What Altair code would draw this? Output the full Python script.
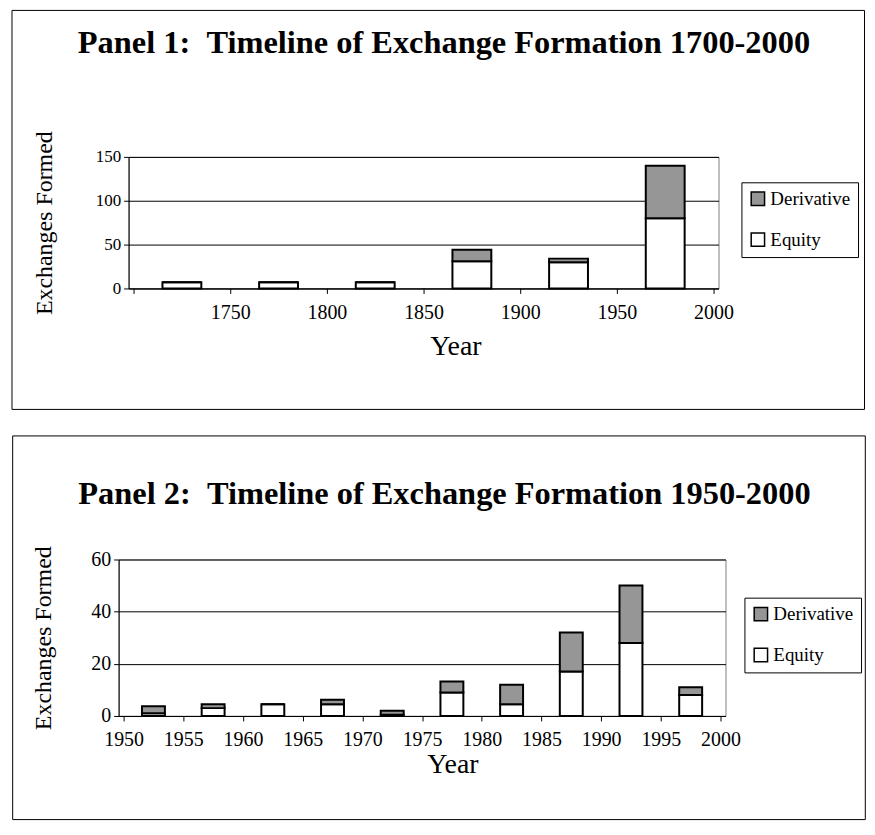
import altair as alt
import pandas as pd

FONT = "Liberation Serif"

title1 = "Panel 1: \u00a0Timeline of Exchange Formation 1700-2000"
p1_years = [1725, 1775, 1825, 1875, 1925, 1975]
p1_equity = [7, 7, 7, 31, 30, 80]
p1_derivative = [0, 0, 0, 13, 4, 60]
p1_xticks = [1700, 1750, 1800, 1850, 1900, 1950, 2000]
p1_yticks = [0, 50, 100, 150]

title2 = "Panel 2: \u00a0Timeline of Exchange Formation 1950-2000"
p2_years = [1952.5, 1957.5, 1962.5, 1967.5, 1972.5, 1977.5, 1982.5, 1987.5, 1992.5, 1997.5]
p2_equity = [1, 3, 4.5, 4.5, 0.5, 9, 4.5, 17, 28, 8]
p2_derivative = [2.75, 1.5, 0, 1.75, 1.5, 4.25, 7.5, 15, 22, 3]
p2_xticks = [1950, 1955, 1960, 1965, 1970, 1975, 1980, 1985, 1990, 1995, 2000]
p2_yticks = [0, 20, 40, 60]


def long_df(years, eq, de):
    rows = []
    for y, e, d in zip(years, eq, de):
        rows.append({"year": y, "series": "Equity", "value": e})
        rows.append({"year": y, "series": "Derivative", "value": d})
    return pd.DataFrame(rows)


def panel(df, title, xticks, yticks, w, h, bar_size, hide_first,
          frame, title_pos, ytitle_x, xtitle_pos, legend_pos, ylab_size):
    xmin, xmax = xticks[0], xticks[-1]
    label_expr = "datum.value == %d ? '' : datum.label" % xmin if hide_first else "datum.label"
    blank = alt.Data(values=[{}])
    fx1, fx2, fy1, fy2 = frame
    frame_layer = alt.Chart(blank).mark_rect(
        fillOpacity=0, stroke="#000", strokeWidth=1, clip=False
    ).encode(x=alt.value(fx1), x2=alt.value(fx2), y=alt.value(fy1), y2=alt.value(fy2))
    title_layer = alt.Chart(blank).mark_text(
        font=FONT, fontSize=32.5, fontWeight="bold", align="center", baseline="alphabetic", color="#000"
    ).encode(x=alt.value(title_pos[0]), y=alt.value(title_pos[1]), text=alt.value(title))
    bars = alt.Chart(df).mark_bar(
        size=bar_size, stroke="#000", strokeWidth=2, orient="vertical"
    ).encode(
        x=alt.X("year:Q", scale=alt.Scale(domain=[xmin, xmax], nice=False, zero=False),
                axis=alt.Axis(values=xticks, labelExpr=label_expr, title="Year",
                              titleX=xtitle_pos[0], titleY=xtitle_pos[1],
                              titleAlign="center", titleBaseline="middle", titleFontSize=28,
                              grid=False, tickSize=5, labelPadding=9, labelFontSize=20,
                              format="d")),
        y=alt.Y("value:Q", stack="zero",
                scale=alt.Scale(domain=[yticks[0], yticks[-1]], nice=False),
                axis=alt.Axis(values=yticks, title="Exchanges Formed", grid=True,
                              titleX=ytitle_x, titleY=h / 2, titleAngle=270,
                              titleAlign="center", titleBaseline="middle", titleFontSize=24,
                              tickSize=5, labelPadding=3, labelFontSize=ylab_size)),
        color=alt.Color("series:N",
                        scale=alt.Scale(domain=["Derivative", "Equity"], range=["#969696", "#ffffff"]),
                        legend=alt.Legend(title=None, orient="none", legendX=legend_pos[0],
                                          legendY=legend_pos[1], strokeColor="#000",
                                          fillColor="#fff", padding=7, rowPadding=20,
                                          symbolType="square", symbolSize=180,
                                          symbolStrokeColor="#000", symbolStrokeWidth=1.5,
                                          labelOffset=3,
                                          labelFont=FONT, labelFontSize=19, labelColor="#000",
                                          labelLimit=200)),
        order=alt.Order("series:N", sort="descending"),
    )
    layered = alt.layer(frame_layer, bars, title_layer).properties(width=w, height=h)
    spacer = alt.Chart(blank).mark_rect(opacity=0).encode(
        x=alt.value(0), x2=alt.value(1), y=alt.value(0), y2=alt.value(1)
    ).properties(width=1, height=1, view=alt.ViewBackground(stroke="transparent"))
    return alt.hconcat(spacer, layered, spacing=0).resolve_legend(color="independent")


df1 = long_df(p1_years, p1_equity, p1_derivative)
df2 = long_df(p2_years, p2_equity, p2_derivative)

c1 = panel(df1, title1, p1_xticks, p1_yticks, 592, 132, 39, True,
           frame=(-117, 738.5, -147, 253.4), title_pos=(316.5, -104),
           ytitle_x=-84, xtitle_pos=(328, 58), legend_pos=(615, 25.5), ylab_size=17)
c2 = panel(df2, title2, p2_xticks, p2_yticks, 609, 157, 23, False,
           frame=(-106.3, 749.3, -124, 261), title_pos=(327, -56),
           ytitle_x=-75.7, xtitle_pos=(335, 49), legend_pos=(628, 38.3), ylab_size=20)

chart = alt.vconcat(c1, c2, spacing=24).resolve_legend(color="independent").properties(
    padding={"left": 0, "top": 0, "right": 0, "bottom": 0}
).configure_view(stroke="#808080", strokeWidth=1).configure_axis(
    labelFont=FONT, titleFont=FONT,
    labelColor="#000", titleColor="#000", titleFontWeight="normal",
    domainColor="#000", tickColor="#000", gridColor="#000", gridWidth=1,
    domainWidth=1, tickWidth=1
)

chart.save("out.html", embed_options={"renderer": "svg", "actions": False})
